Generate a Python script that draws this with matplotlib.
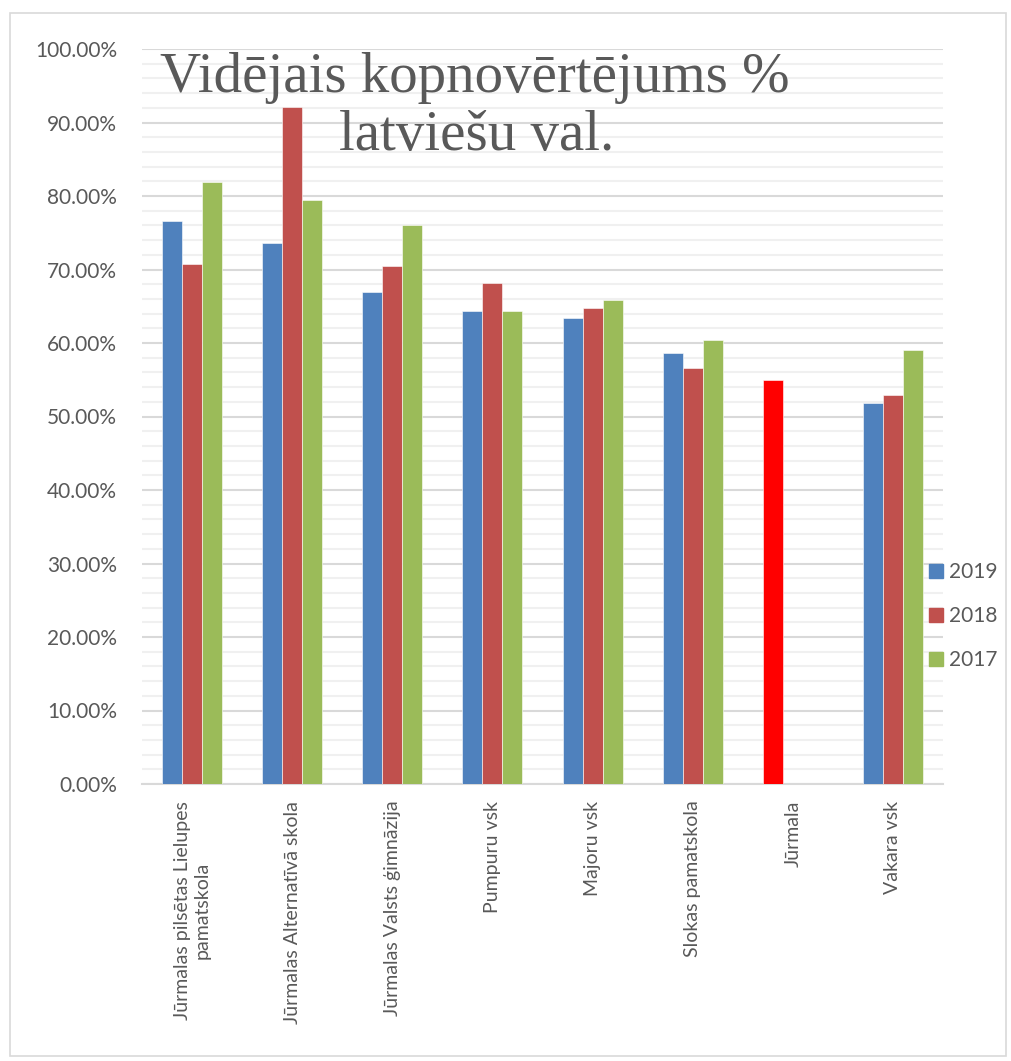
import matplotlib.pyplot as plt
from matplotlib.patches import Rectangle, Patch
from matplotlib.ticker import MultipleLocator, PercentFormatter

# data
schools = ["Jūrmalas pilsētas Lielupes\npamatskola", "Jūrmalas Alternatīvā skola",
           "Jūrmalas Valsts ģimnāzija", "Pumpuru vsk", "Majoru vsk",
           "Slokas pamatskola", "Jūrmala", "Vakara vsk"]
years = ["2019", "2018", "2017"]
v2019 = [76.6, 73.6, 67.0, 64.4, 63.4, 58.7, 55.0, 51.8]
v2018 = [70.7, 92.1, 70.5, 68.2, 64.8, 56.6, None, 52.9]
v2017 = [81.9, 79.5, 76.1, 64.4, 65.9, 60.4, None, 59.1]
colors = ["#4F81BD", "#C0504D", "#9BBB59"]
highlight = "Jūrmala"

plt.rcParams['font.family'] = ['Lato', 'DejaVu Sans']
text_col = "#595959"

fig = plt.figure(figsize=(10.11, 10.61), dpi=100)
fig.patches.append(Rectangle((10 / 1011, 5 / 1061), 996 / 1011, 1043 / 1061,
                             transform=fig.transFigure, fill=False,
                             edgecolor="#d9d9d9", linewidth=1.2))
ax = fig.add_axes([142 / 1011, 277 / 1061, 801 / 1011, 735 / 1061])

w = 0.2
for i, (vals, c) in enumerate(zip([v2019, v2018, v2017], colors)):
    for j, v in enumerate(vals):
        if v is None:
            continue
        col = c
        if schools[j] == highlight:
            col = "#FF0000"
        ax.bar(j + (i - 1) * w, v, w, color=col, edgecolor="white", linewidth=0.4, zorder=3)

ax.set_xlim(-0.5, len(schools) - 0.5)
ax.set_ylim(0, 100)
ax.yaxis.set_major_locator(MultipleLocator(10))
ax.yaxis.set_minor_locator(MultipleLocator(2))
ax.yaxis.set_major_formatter(PercentFormatter(decimals=2))
ax.grid(axis='y', which='major', color="#d9d9d9", linewidth=1.5, zorder=0)
ax.grid(axis='y', which='minor', color="#f0f0f0", linewidth=1.5, zorder=0)
for s in ['top', 'right', 'left']:
    ax.spines[s].set_visible(False)
ax.spines['bottom'].set_color("#d9d9d9")
ax.spines['bottom'].set_linewidth(1.5)
ax.tick_params(axis='both', which='both', length=0, colors=text_col)
ax.tick_params(axis='y', pad=18, labelsize=15)
ax.set_xticks(range(len(schools)))
ax.set_xticklabels(schools, rotation=90, va='top', ha='center', multialignment='center')
ax.tick_params(axis='x', pad=12, labelsize=14)

fig.text(475 / 1011, 1 - 78 / 1061, "Vidējais kopnovērtējums %", ha='center', va='center',
         fontsize=41, color=text_col, family='Liberation Serif')
fig.text(477 / 1011, 1 - 136 / 1061, "latviešu val.", ha='center', va='center',
         fontsize=41, color=text_col, family='Liberation Serif')

handles = [Patch(color=c) for c in colors]
fig.legend(handles, years, loc='center left', bbox_to_anchor=(929 / 1011, 1 - 616 / 1061),
           frameon=False, fontsize=15, labelcolor=text_col, handlelength=0.65,
           handleheight=0.65, handletextpad=0.3, labelspacing=1.15,
           borderpad=0, borderaxespad=0)

fig.savefig("out.png", dpi=100)
